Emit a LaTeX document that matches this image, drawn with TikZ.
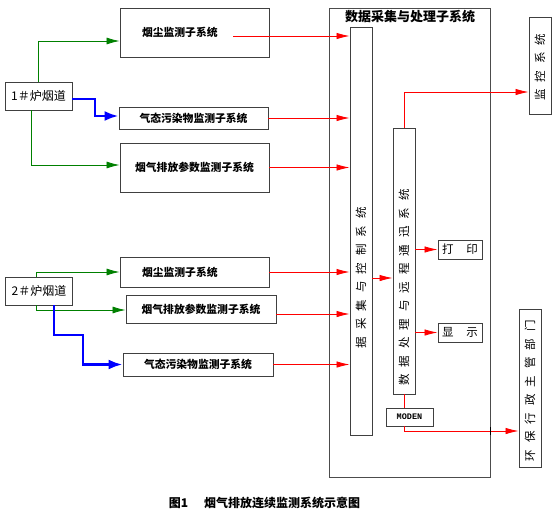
\documentclass[tikz,border=0pt]{standalone}
\usepackage{fontspec}
\setmainfont{Noto Sans CJK SC}
\newfontfamily\monofont{Liberation Mono}
\usetikzlibrary{arrows.meta}
\newcommand{\colgap}{\spaceskip 7pt plus 0pt\relax}
\newcommand{\outgap}{\spaceskip 13pt plus 0pt\relax}
\begin{document}
\begin{tikzpicture}[x=1pt,y=-1pt,
  sysbox/.style={draw=black!75,line width=0.9pt,inner sep=0pt,font=\bfseries\fontsize{10.8}{12}\selectfont},
  ductbox/.style={draw=black!75,line width=0.9pt,inner sep=0pt,minimum width=67pt,minimum height=28pt,font=\fontsize{12}{13}\selectfont},
  colbox/.style={draw=black!75,line width=0.9pt,inner sep=0pt,minimum width=22pt},
  coltext/.style={rotate=90,inner sep=0pt,font={\fontsize{11.5}{12}\selectfont\colgap}},
  outbox/.style={draw=black!75,line width=0.9pt,inner sep=0pt,minimum width=44pt,minimum height=19pt,font={\fontsize{11.5}{12}\selectfont\outgap}},
  greenline/.style={draw=green!50!black,line width=0.8pt,-{Latex[length=13pt,width=7pt]}},
  redline/.style={draw=red,line width=0.8pt,-{Latex[length=13pt,width=6.5pt]}},
  blueline/.style={draw=blue,line width=2.6pt,-{Latex[length=14pt,width=10pt]}}]
\useasboundingbox (0,0) rectangle (558,512);
\node[ductbox] (duct1) at (38.5,96) {1＃炉烟道};
\node[sysbox,text width=105pt,inner xsep=22pt,minimum height=49pt,align=left] (dust1) at (194.5,32.5) {烟尘监测子系统};
\node[sysbox,minimum width=149pt,minimum height=22pt] (gas1) at (193.5,118) {气态污染物监测子系统};
\node[sysbox,minimum width=149pt,minimum height=49pt] (flue1) at (194.5,167.5) {烟气排放参数监测子系统};
\node[ductbox] (duct2) at (39,291) {2＃炉烟道};
\node[sysbox,text width=105pt,inner xsep=22pt,minimum height=30pt,align=left] (dust2) at (194.5,272) {烟尘监测子系统};
\node[sysbox,minimum width=150pt,minimum height=28pt] (flue2) at (201,309) {烟气排放参数监测子系统};
\node[sysbox,minimum width=150pt,minimum height=23pt] (gas2) at (198,364.5) {气态污染物监测子系统};
\node[draw=black!70,line width=0.9pt,inner sep=0pt,minimum width=161pt,minimum height=469pt] (dacq) at (409.5,242.5) {};
\node[inner sep=0pt,font=\bfseries\fontsize{13}{14}\selectfont] (dacqtitle) at (410,17) {数据采集与处理子系统};
\node[colbox,minimum height=408pt] (ctrl) at (361,231) {};
\node[coltext] (ctrltext) at (361,277.5) {据 采 集 与 控 制 系 统};
\node[colbox,minimum height=266pt] (proc) at (404,261) {};
\node[coltext] (proctext) at (404,287.5) {数 据 处 理 与 远 程 通 迅 系 统};
\node[outbox] (print) at (460,249.5) {打 印};
\node[outbox] (show) at (460,332.5) {显 示};
\node[draw=black!75,line width=0.9pt,inner sep=0pt,minimum width=47pt,minimum height=18pt,font=\monofont\bfseries\fontsize{8.5}{10}\selectfont] (modem) at (409.5,417) {MODEN};
\node[colbox,minimum height=97pt] (monitor) at (540,65.5) {};
\node[coltext] (monitortext) at (540,67) {监 控 系 统};
\node[colbox,minimum height=158pt] (epb) at (530,388) {};
\node[coltext] (epbtext) at (530,390.5) {环 保 行 政 主 管 部 门};
\node[inner sep=0pt,font=\bfseries\fontsize{12}{14}\selectfont] (caption) at (264.5,503) {图1\hspace{16pt}烟气排放连续监测系统示意图};
\coordinate (dust1out) at (233,36);
\draw[greenline] (duct1.north) |- (dust1.west |- 0,41);
\draw[greenline] ([xshift=-7.5pt]duct1.south) |- (flue1.west |- 0,165);
\draw[blueline] ([yshift=-3pt]duct1.east) -- (95,99) |- (gas1.west |- 0,116);
\draw[greenline] ([xshift=-3pt]duct2.north) |- (dust2.west);
\draw[greenline] ([xshift=-3pt]duct2.south) |- (flue2.west |- 0,310);
\draw[blueline] ([xshift=15pt]duct2.south) |- (83,335) |- (gas2.west);
\draw[redline] (dust1out) -- (ctrl.west |- dust1out);
\draw[redline] (gas1.east) -- (gas1.east -| ctrl.west);
\draw[redline] (flue1.east) -- (flue1.east -| ctrl.west);
\draw[redline] (dust2.east) -- (dust2.east -| ctrl.west);
\draw[redline] (flue2.east |- 0,314) -- (ctrl.west |- 0,314);
\draw[redline] (gas2.east) -- (gas2.east -| ctrl.west);
\draw[redline] (ctrl.east |- 0,278) -- (proc.west |- 0,278);
\draw[redline] (proc.east |- print.west) -- (print.west);
\draw[redline] (proc.east |- show.west) -- (show.west);
\draw[redline] (proc.north) |- (monitor.west |- 0,92);
\draw[red,line width=0.8pt] (proc.south) -- (proc.south |- modem.north);
\draw[redline] (proc.south |- modem.south) |- (epb.west |- 0,431);
\draw[line width=0.9pt] (dacq.east |- 0,427) -- (dacq.east |- 0,435);
\end{tikzpicture}
\end{document}
